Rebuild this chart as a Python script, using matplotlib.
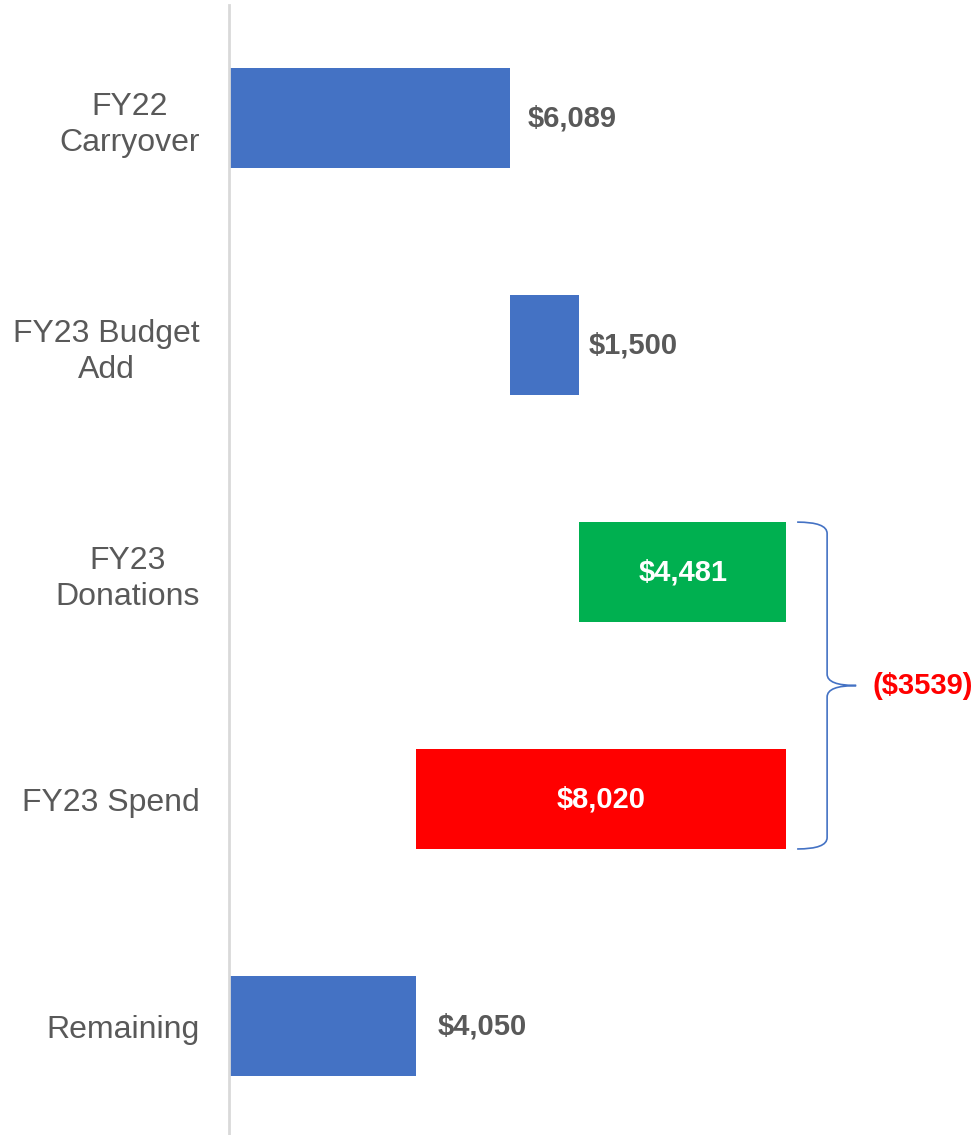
import numpy as np
import matplotlib.pyplot as plt
from matplotlib.path import Path
import matplotlib.patches as mpatches

# Data
categories = ["FY22\nCarryover", "FY23 Budget\nAdd", "FY23\nDonations", "FY23 Spend", "Remaining"]
values = [6089, 1500, 4481, -8020, 4050]
is_total = [True, False, False, False, True]
bar_colors = ["#4472C4", "#4472C4", "#00B050", "#FF0000", "#4472C4"]
value_labels = ["$6,089", "$1,500", "$4,481", "$8,020", "$4,050"]
inside_label = [False, False, True, True, False]
label_gap_px = [18, 9, 0, 0, 22]
net_label = "($3539)"

# Waterfall positions
lefts, widths = [], []
running = 0
for v, tot in zip(values, is_total):
    if tot:
        lefts.append(0)
        widths.append(v)
        running = v
    else:
        new = running + v
        lefts.append(min(running, new))
        widths.append(abs(v))
        running = new

fig = plt.figure(figsize=(9.76, 11.35), dpi=100)
ax = fig.add_axes([229 / 976, 0.0, 1 - 229 / 976, 1130 / 1135])

y = np.arange(len(categories))
h = 0.44
ax.barh(y, widths, left=lefts, height=h, color=bar_colors, zorder=2)

ax.set_xlim(0, 16186)
ax.set_ylim(4.48, -0.498)

for s in ["top", "right", "bottom"]:
    ax.spines[s].set_visible(False)
ax.spines["left"].set_color("#D9D9D9")
ax.spines["left"].set_linewidth(2)
ax.set_xticks([])
ax.set_yticks(y)
ax.set_yticklabels(categories, fontsize=23, color="#595959",
                   family="Liberation Sans", ha="right", multialignment="center",
                   linespacing=1.3)
ax.tick_params(axis="y", length=0, pad=21)

# Value labels
for i in range(len(values)):
    if inside_label[i]:
        ax.text(lefts[i] + widths[i] / 2, y[i], value_labels[i], ha="center", va="center",
                fontsize=21, fontweight="bold", color="white", family="Liberation Sans")
    else:
        ax.annotate(value_labels[i], (lefts[i] + widths[i], y[i]),
                    xytext=(label_gap_px[i] * 0.72, 0), textcoords="offset points",
                    ha="left", va="center", fontsize=21, fontweight="bold",
                    color="#595959", family="Liberation Sans")

# Curly brace spanning donations and spend
end = lefts[2] + widths[2]
top = y[2] - h / 2
bot = y[3] + h / 2
mid = (top + bot) / 2
x0 = end + 240
x1 = x0 + 650
tip = x1 + 630
r = 0.05
verts = [
    (x0, top), (x1, top), (x1, top + r),
    (x1, mid - r), (x1, mid), (tip, mid),
    (x1, mid), (x1, mid + r),
    (x1, bot - r), (x1, bot), (x0, bot),
]
codes = [Path.MOVETO, Path.CURVE3, Path.CURVE3,
         Path.LINETO, Path.CURVE3, Path.CURVE3,
         Path.CURVE3, Path.CURVE3,
         Path.LINETO, Path.CURVE3, Path.CURVE3]
brace = mpatches.PathPatch(Path(verts, codes), fill=False, edgecolor="#4472C4", lw=1.2)
ax.add_patch(brace)
ax.annotate(net_label, (tip, mid), xytext=(12, 0), textcoords="offset points",
            ha="left", va="center", fontsize=21, fontweight="bold", color="#FF0000",
            family="Liberation Sans", annotation_clip=False)

fig.savefig("out.png", dpi=100)
